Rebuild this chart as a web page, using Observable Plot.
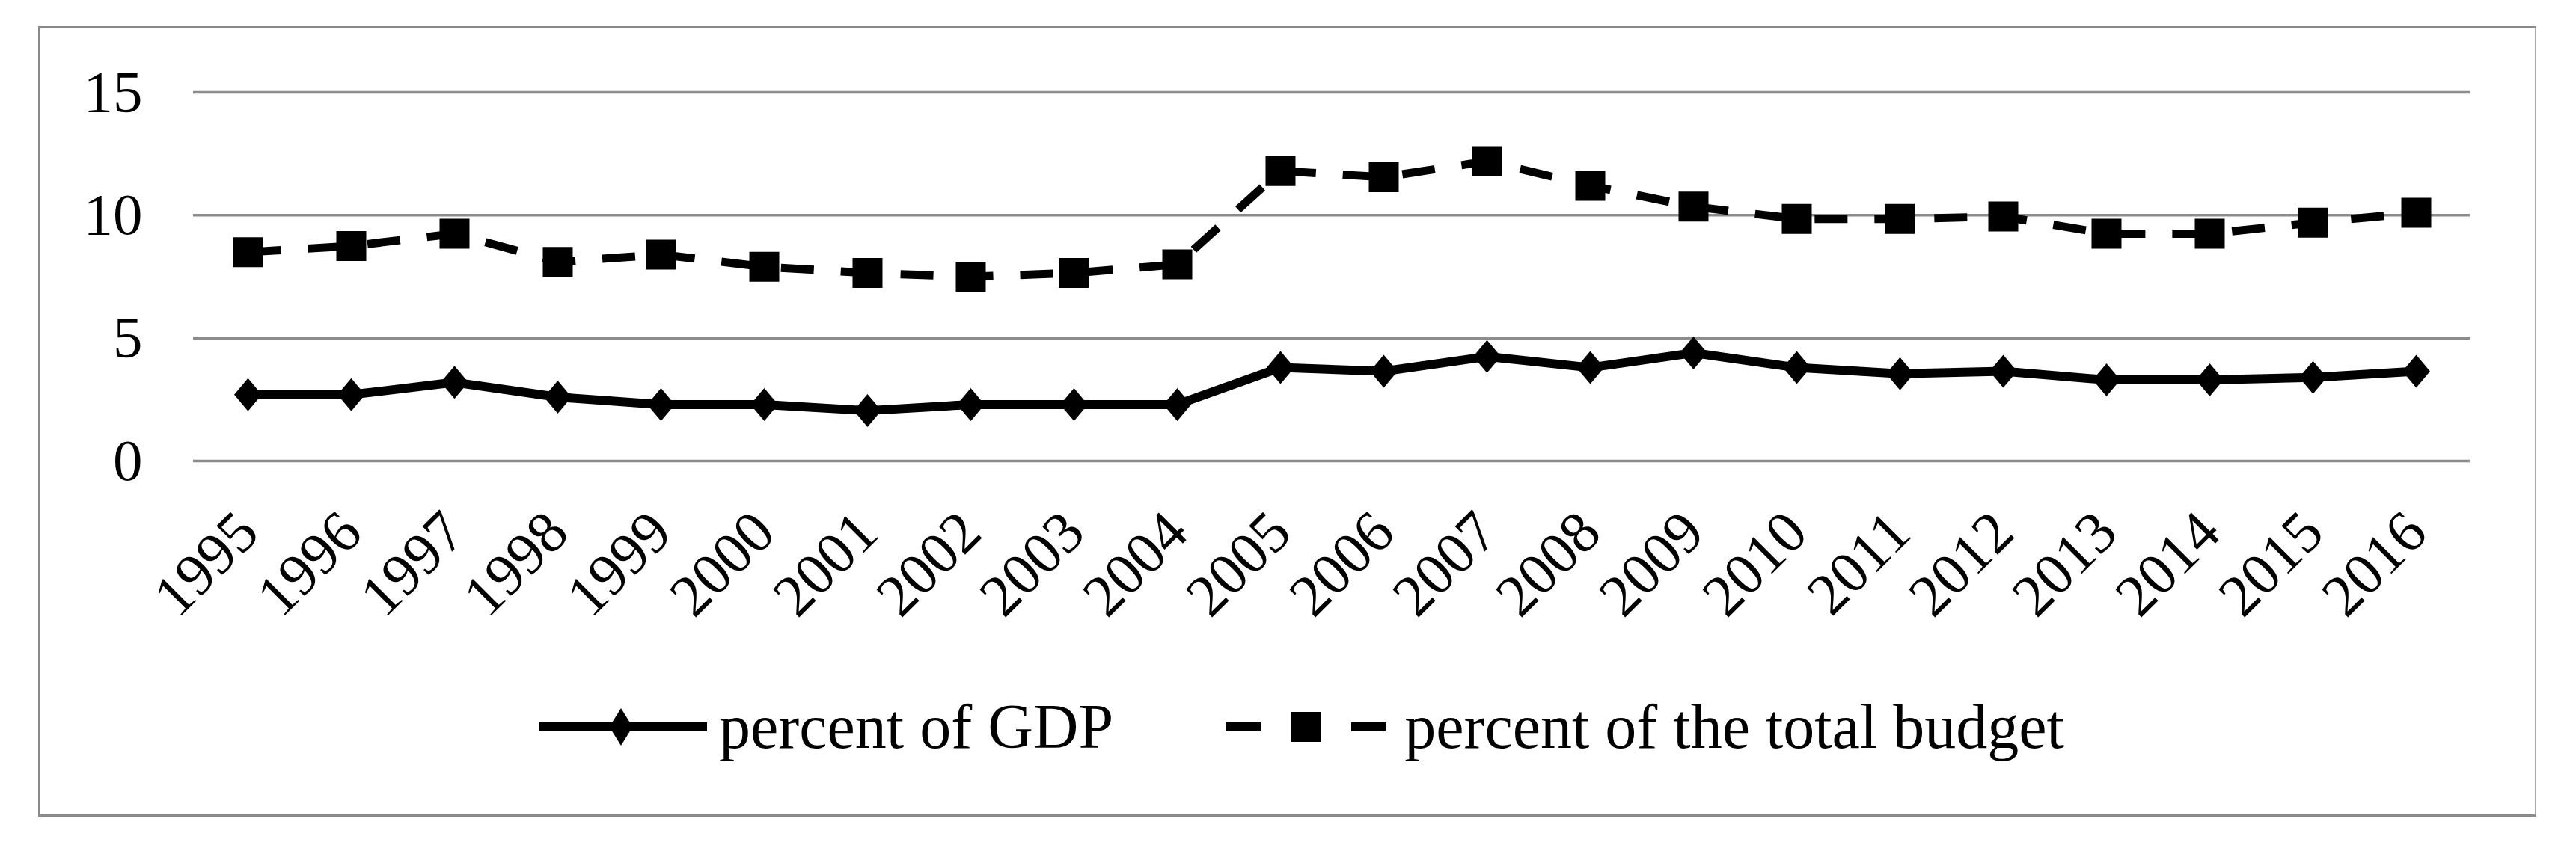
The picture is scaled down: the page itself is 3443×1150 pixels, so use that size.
<!DOCTYPE html>
<html><head><meta charset="utf-8">
<script src="https://cdn.jsdelivr.net/npm/d3@7"></script>
<script src="https://cdn.jsdelivr.net/npm/@observablehq/plot@0.6"></script>
<style>
html,body{margin:0;padding:0;background:#fff;width:3443px;height:1150px;overflow:hidden;}
#frame{position:absolute;left:51px;top:35px;width:3339px;height:1057px;box-sizing:border-box;border:3px solid #8a8a8a;border-right:2px solid #ababab;}
#chart{position:absolute;left:0;top:0;}
#legend{position:absolute;left:720px;top:930px;height:84px;display:flex;align-items:center;font-family:"Liberation Serif","Times New Roman",serif;font-size:84px;line-height:84px;color:#000;white-space:nowrap;}
#legend svg{display:block;flex:none;}
</style></head><body>
<div id="frame"></div>
<div id="chart"></div>
<div id="legend"></div>
<script>
const years = ["1995","1996","1997","1998","1999","2000","2001","2002","2003","2004","2005","2006","2007","2008","2009","2010","2011","2012","2013","2014","2015","2016"];
const gdpPercent = [2.7, 2.7, 3.2, 2.6, 2.3, 2.3, 2.05, 2.3, 2.3, 2.3, 3.8, 3.65, 4.25, 3.8, 4.4, 3.8, 3.55, 3.65, 3.3, 3.3, 3.4, 3.65];
const budgetPercent = [8.5, 8.75, 9.25, 8.1, 8.4, 7.9, 7.65, 7.5, 7.65, 8.0, 11.8, 11.55, 12.2, 11.2, 10.35, 9.85, 9.85, 9.95, 9.25, 9.25, 9.7, 10.1];
const yTicks = [0, 5, 10, 15];
const seriesNames = ["percent of GDP", "percent of the total budget"];

const gdpData = years.map((year, i) => ({year, value: gdpPercent[i]}));
const budgetData = years.map((year, i) => ({year, value: budgetPercent[i]}));

const diamondSymbol = {draw(ctx, size) {
  const r = Math.sqrt(size / Math.PI), w = r * 0.84;
  ctx.moveTo(0, -r); ctx.lineTo(w, 0); ctx.lineTo(0, r); ctx.lineTo(-w, 0); ctx.closePath();
}};
const squareSymbol = {draw(ctx, size) {
  const r = Math.sqrt(size / Math.PI);
  ctx.rect(-r, -r, 2 * r, 2 * r);
}};

const font = "'Liberation Serif', 'Times New Roman', serif";

const chart = Plot.plot({
  width: 3443,
  height: 880,
  marginLeft: 258,
  marginRight: 142,
  marginTop: 123,
  marginBottom: 264,
  style: {fontFamily: font, background: "transparent", color: "#000"},
  x: {type: "point", domain: years, padding: 0.5},
  y: {domain: [0, 15]},
  marks: [
    Plot.ruleY(yTicks, {stroke: "#8c8c8c", strokeWidth: 3.5}),
    Plot.axisY({ticks: yTicks, tickSize: 0, tickPadding: 68, fontSize: 79, label: null, fill: "#000"}),
    Plot.axisX({tickSize: 0, tickRotate: -45, tickPadding: 82, fontSize: 79, label: null, textAnchor: "end", lineAnchor: "middle", fill: "#000"}),
    Plot.line(budgetData, {x: "year", y: "value", stroke: "#000", strokeWidth: 11, strokeDasharray: "44,36", strokeLinecap: "butt"}),
    Plot.dot(budgetData, {x: "year", y: "value", symbol: squareSymbol, r: 20, fill: "#000", stroke: null}),
    Plot.line(gdpData, {x: "year", y: "value", stroke: "#000", strokeWidth: 12, strokeLinejoin: "round"}),
    Plot.dot(gdpData, {x: "year", y: "value", symbol: diamondSymbol, r: 22, fill: "#000", stroke: null})
  ]
});
document.getElementById("chart").appendChild(chart);

const legend = document.getElementById("legend");
legend.innerHTML =
  `<svg width="225" height="60" viewBox="0 0 225 60"><line x1="0" y1="30" x2="225" y2="30" stroke="#000" stroke-width="12"/><path d="M110 5 L125.5 30 L110 55 L94.5 30Z" fill="#000"/></svg>` +
  `<span style="margin-left:16px">${seriesNames[0]}</span>` +
  `<svg style="margin-left:150px" width="215" height="60" viewBox="0 0 215 60"><line x1="0" y1="30" x2="47" y2="30" stroke="#000" stroke-width="12"/><rect x="87" y="10" width="40" height="40" fill="#000"/><line x1="168" y1="30" x2="215" y2="30" stroke="#000" stroke-width="12"/></svg>` +
  `<span style="margin-left:24px">${seriesNames[1]}</span>`;
</script>
</body></html>
